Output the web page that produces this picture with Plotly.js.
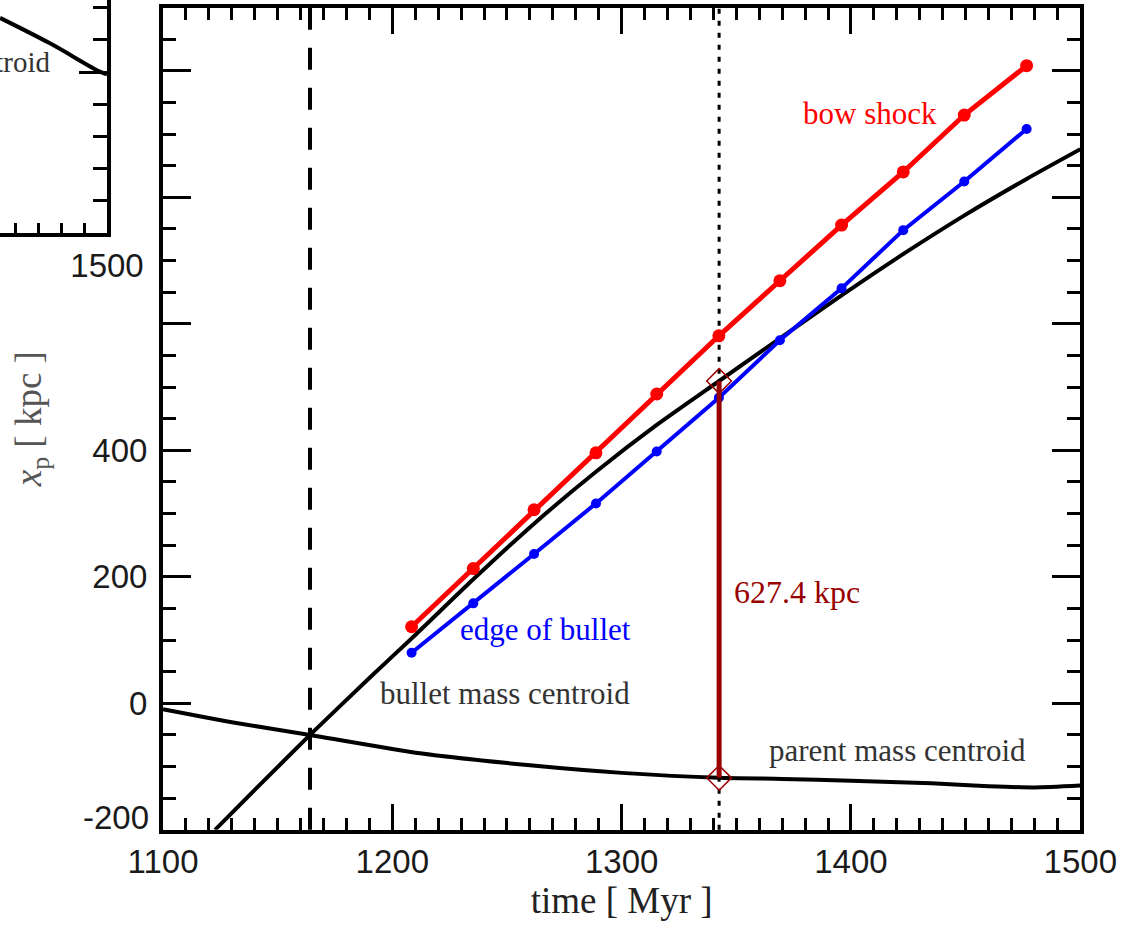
<!DOCTYPE html>
<html>
<head>
<meta charset="utf-8">
<script src="https://cdn.plot.ly/plotly-3.0.1.min.js"></script>
<style>
  html, body { margin: 0; padding: 0; background: #fff; }
  #chart { width: 1126px; height: 926px; }
</style>
</head>
<body>
<div id="chart"></div>
<script>
// Snapshot times [Myr] for the bow shock and bullet edge tracks
const snapTimes = [1208.4, 1235.3, 1261.8, 1288.8, 1315.3, 1342.4, 1369.0, 1395.9, 1422.8, 1449.4, 1476.6];
// Bow shock position [kpc]
const bowShock = [121, 213, 306, 396, 489, 581, 668, 756, 840, 930, 1008];
// Leading edge of the bullet [kpc]
const bulletEdge = [80, 158, 236, 316, 398, 483, 574, 656, 748, 825, 908];

// Bullet mass centroid trajectory
const bulletTime = [1122.7, 1140, 1164.1, 1190, 1210.6, 1235.3, 1261.8, 1288.8, 1315.3, 1342.5, 1369.0, 1395.9, 1422.7, 1449.3, 1476.6, 1500];
const bulletPos  = [-200, -137, -50, 40, 110, 196, 284, 366, 440, 509.5, 577, 645, 710, 771, 829, 876];

// Parent (main cluster) mass centroid trajectory
const parentTime = [1100, 1130, 1164.1, 1212.1, 1260, 1300, 1342.5, 1370, 1400, 1435, 1460, 1480, 1500];
const parentPos  = [-9.5, -30, -50, -79, -98, -110, -117.9, -119.5, -122.5, -126.5, -131, -133, -130];

// Core passage time and the time of the separation measurement
const crossTime = 1164.1;
const markTime = 1342.5;

// Neighbouring panel (only its lower right corner is in view)
const sideTime = [1453.3, 1475.1, 1496.9, 1500];
const sidePos  = [668, 589, 501, 493];

// Axis ticks
const xTicks = [1100, 1200, 1300, 1400, 1500];
const yTicks = [-200, 0, 200, 400, 600, 800, 1000];
const yTickText = ['', '0', '200', '400', '', '', ''];

const markIdxB = bulletTime.indexOf(markTime);
const markIdxP = parentTime.indexOf(markTime);
const sepTop = bulletPos[markIdxB];
const sepBot = parentPos[markIdxP];
const sepLabel = (sepTop - sepBot).toFixed(1) + ' kpc';

const serif = 'Liberation Serif, Times New Roman, serif';
const sans = 'Liberation Sans, Arial, Helvetica, sans-serif';
const tickFont = { family: sans, size: 33, color: '#1a1a1a' };

const traces = [
  { x: bulletTime, y: bulletPos, mode: 'lines', line: { color: '#000', width: 4, shape: 'spline', smoothing: 0.6 }, xaxis: 'x', yaxis: 'y' },
  { x: parentTime, y: parentPos, mode: 'lines', line: { color: '#000', width: 4, shape: 'spline', smoothing: 0.6 }, xaxis: 'x', yaxis: 'y' },
  { x: snapTimes, y: bulletEdge, mode: 'lines+markers', line: { color: '#0000ff', width: 4 },
    marker: { color: '#0000ff', size: 10 }, xaxis: 'x', yaxis: 'y' },
  { x: snapTimes, y: bowShock, mode: 'lines+markers', line: { color: '#ff0000', width: 5 },
    marker: { color: '#ff0000', size: 13 }, xaxis: 'x', yaxis: 'y' },
  { x: [markTime, markTime], y: [sepBot, sepTop], mode: 'lines+markers',
    line: { color: '#990000', width: 5 },
    marker: { symbol: 'diamond-open', size: 19, color: '#990000', line: { width: 1.5, color: '#bb0000' } },
    xaxis: 'x', yaxis: 'y', cliponaxis: false },
  { x: sideTime, y: sidePos, mode: 'lines', line: { color: '#000', width: 4, shape: 'spline' }, xaxis: 'x2', yaxis: 'y2' }
];

const layout = {
  width: 1126, height: 926,
  margin: { l: 0, r: 0, t: 0, b: 0 },
  paper_bgcolor: '#fff', plot_bgcolor: 'rgba(0,0,0,0)',
  showlegend: false,
  xaxis: {
    domain: [0.14476, 0.95941], range: [1100, 1500], anchor: 'y',
    tickmode: 'array', tickvals: xTicks,
    ticks: 'inside', ticklen: 26, tickwidth: 3, tickcolor: '#000',
    showline: true, linewidth: 4, linecolor: '#000', mirror: 'ticks',
    showgrid: false, zeroline: false,
    minor: { tickmode: 'linear', tick0: 1100, dtick: 10, ticks: 'inside', ticklen: 12, tickwidth: 3, tickcolor: '#000', showgrid: false },
    tickfont: tickFont, ticklabelstandoff: 0,
    title: { text: 'time [ Myr ]', font: { family: serif, size: 37, color: '#222' }, standoff: 2 }
  },
  yaxis: {
    domain: [0.10389, 0.99190], range: [-200, 1100], anchor: 'x',
    tickmode: 'array', tickvals: yTicks, ticktext: yTickText,
    ticks: 'inside', ticklen: 28, tickwidth: 3, tickcolor: '#000',
    showline: true, linewidth: 4, linecolor: '#000', mirror: 'ticks',
    showgrid: false, zeroline: false,
    minor: { tickmode: 'linear', tick0: -200, dtick: 50, ticks: 'inside', ticklen: 13, tickwidth: 3, tickcolor: '#000', showgrid: false },
    tickfont: tickFont, ticklabelstandoff: 5,
    title: { text: '<i>x</i><sub>p</sub> [ kpc ]', font: { family: serif, size: 37, color: '#555' }, standoff: 40 }
  },
  xaxis2: {
    domain: [0, 0.09503], range: [1453.3, 1500], anchor: 'y2',
    tickmode: 'linear', tick0: 1100, dtick: 100,
    ticks: 'inside', ticklen: 26, tickwidth: 3, tickcolor: '#000',
    showline: true, linewidth: 4, linecolor: '#000',
    showgrid: false, zeroline: false,
    minor: { tickmode: 'linear', tick0: 1100, dtick: 10, ticks: 'inside', ticklen: 10, tickwidth: 3, tickcolor: '#000', showgrid: false },
    tickfont: tickFont, ticklabelstandoff: 0
  },
  yaxis2: {
    domain: [0.74838, 1], range: [0, 723.6], anchor: 'x2', side: 'right',
    tickmode: 'linear', tick0: 0, dtick: 500,
    ticks: 'inside', ticklen: 28, tickwidth: 3, tickcolor: '#000',
    showline: true, linewidth: 4, linecolor: '#000',
    showgrid: false, zeroline: false, showticklabels: false,
    minor: { tickmode: 'linear', tick0: 0, dtick: 100, ticks: 'inside', ticklen: 14, tickwidth: 3, tickcolor: '#000', showgrid: false }
  },
  shapes: [
    { type: 'line', xref: 'x', yref: 'y domain', x0: crossTime, x1: crossTime, y0: 0, y1: 1,
      line: { color: '#000', width: 4, dash: '22px,18px' }, layer: 'below' },
    { type: 'line', xref: 'x', yref: 'y domain', x0: markTime, x1: markTime, y0: 0, y1: 1,
      line: { color: '#000', width: 3, dash: '5px,7px' }, layer: 'below' }
  ],
  annotations: [
    { xref: 'x', yref: 'y', x: 1408.3, y: 933, text: 'bow shock', showarrow: false,
      font: { family: serif, size: 31, color: '#ff0000' } },
    { xref: 'x', yref: 'y', x: 1266.6, y: 116, text: 'edge of bullet', showarrow: false,
      font: { family: serif, size: 31, color: '#0000ff' } },
    { xref: 'x', yref: 'y', x: 1249.1, y: 16, text: 'bullet mass centroid', showarrow: false,
      font: { family: serif, size: 31, color: '#333' } },
    { xref: 'x', yref: 'y', x: 1420.5, y: -74, text: 'parent mass centroid', showarrow: false,
      font: { family: serif, size: 31, color: '#333' } },
    { xref: 'x', yref: 'y', x: 1376.5, y: 176, text: sepLabel, showarrow: false,
      font: { family: serif, size: 32, color: '#990000' } },
    { xref: 'x2', yref: 'y2', x: 1476.6, y: 531, xanchor: 'right', text: 'centroid', showarrow: false,
      font: { family: serif, size: 29, color: '#333' } },
    { xref: 'paper', yref: 'y', x: 0.14476, y: -200, xanchor: 'right', xshift: -12, yshift: 12,
      text: '-200', showarrow: false, font: tickFont }
  ]
};

Plotly.newPlot('chart', traces, layout, { staticPlot: true, displayModeBar: false });
</script>
</body>
</html>
